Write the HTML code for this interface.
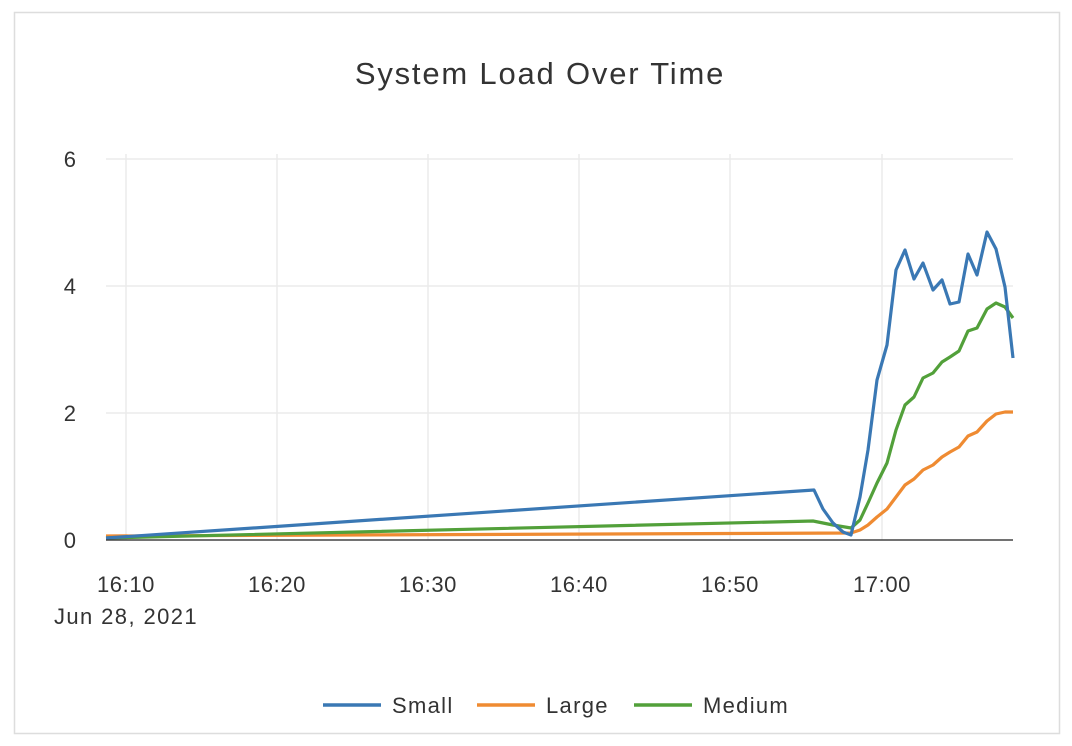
<!DOCTYPE html>
<html><head><meta charset="utf-8"><style>
html,body{margin:0;padding:0;background:#fff;width:1072px;height:746px;overflow:hidden}
text{font-family:"Liberation Sans",sans-serif;fill:#333}
</style></head><body>
<svg width="1072" height="746" viewBox="0 0 1072 746">
<rect x="14.5" y="12.5" width="1045" height="721" fill="#fff" stroke="#ddd" stroke-width="1.5"/>
<text x="540" y="84" font-size="31" letter-spacing="1.8" text-anchor="middle">System Load Over Time</text>
<g stroke="#ebebeb" stroke-width="1.5">
<line x1="106" y1="159" x2="1013" y2="159"/>
<line x1="106" y1="286" x2="1013" y2="286"/>
<line x1="106" y1="413" x2="1013" y2="413"/>
<line x1="126" y1="154" x2="126" y2="540"/>
<line x1="277" y1="154" x2="277" y2="540"/>
<line x1="428" y1="154" x2="428" y2="540"/>
<line x1="579" y1="154" x2="579" y2="540"/>
<line x1="730" y1="154" x2="730" y2="540"/>
<line x1="882" y1="154" x2="882" y2="540"/>
</g>
<g font-size="22" text-anchor="end">
<text x="76" y="167">6</text><text x="76" y="294">4</text><text x="76" y="421">2</text><text x="76" y="548">0</text>
</g>
<g font-size="22" text-anchor="middle" letter-spacing="0.6">
<text x="126" y="592">16:10</text><text x="126" y="624" letter-spacing="1.4">Jun 28, 2021</text>
<text x="277" y="592">16:20</text><text x="428" y="592">16:30</text>
<text x="579" y="592">16:40</text><text x="730" y="592">16:50</text><text x="882" y="592">17:00</text>
</g>
<g fill="none" stroke-width="3.2" stroke-linejoin="round">
<polyline stroke="#ef8b32" points="106,536 851,533 860,530 868,525 877,517 887,509 896,497 905,485 914,479 923,470 933,465 942,457 950,452 959,447 968,436 977,432 987,421 996,414 1005,412 1013,412"/>
<polyline stroke="#52a03a" points="106,538 813,521 833,525 851,528 860,520 868,503 877,483 887,463 896,430 905,405 914,397 923,378 933,373 942,362 950,357 959,351 968,331 977,328 987,309 996,303 1005,307 1013,318"/>
<polyline stroke="#3a78b4" points="106,538 814,490 823,509 833,523 843,532 851,535 860,497 868,450 877,380 887,345 896,270 905,250 914,279 923,263 933,290 942,280 950,304 959,302 968,254 977,275 987,232 996,249 1005,287 1013,358"/>
</g>
<line x1="106" y1="540" x2="1013" y2="540" stroke="#444" stroke-width="1.5"/>
<g stroke-width="3.5">
<line x1="323" y1="705" x2="381" y2="705" stroke="#3a78b4"/>
<line x1="477" y1="705" x2="535" y2="705" stroke="#ef8b32"/>
<line x1="634" y1="705" x2="692" y2="705" stroke="#52a03a"/>
</g>
<g font-size="22" letter-spacing="1.3">
<text x="392" y="713">Small</text><text x="546" y="713">Large</text><text x="703" y="713">Medium</text>
</g>
</svg>
</body></html>
